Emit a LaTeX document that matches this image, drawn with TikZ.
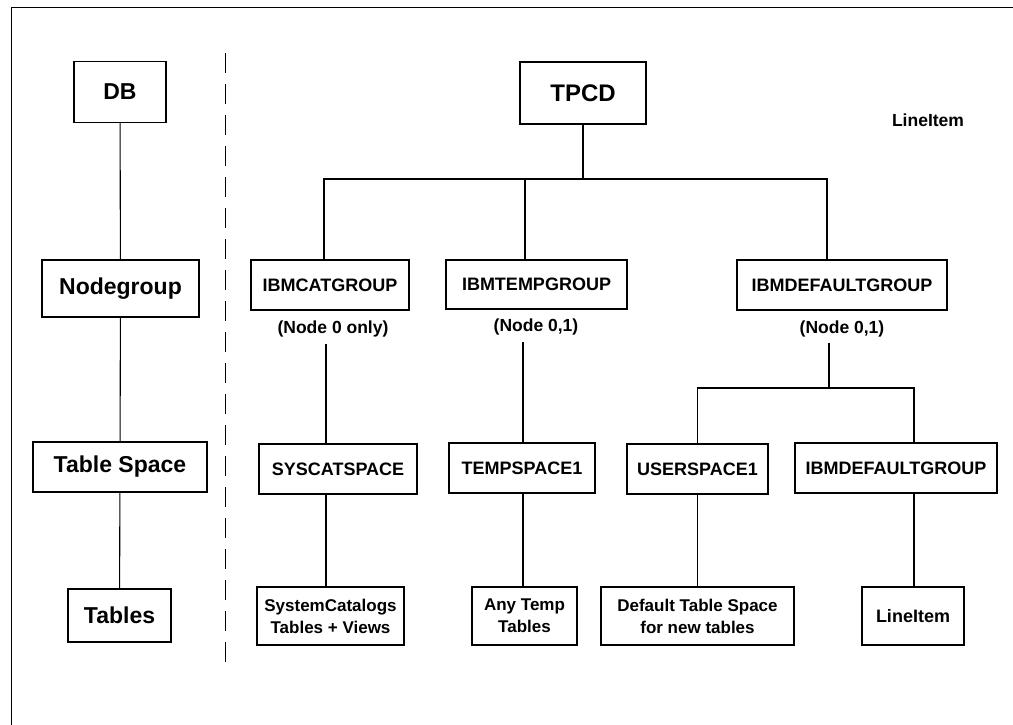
\documentclass[tikz,border=0pt]{standalone}
\usepackage{fontspec}
\setmainfont{Liberation Sans}
\begin{document}
\begin{tikzpicture}[x=1pt,y=-1pt,
  box/.style={draw,line width=1.2pt,inner sep=0pt,align=center,font=\fontsize{18}{22}\selectfont\bfseries},
  twobox/.style={box,font=\fontsize{17}{22}\selectfont\bfseries},
  bigbox/.style={box,font=\fontsize{23}{26}\selectfont\bfseries},
  lbl/.style={inner sep=0pt,font=\fontsize{17.5}{20}\selectfont\bfseries},
  conn/.style={line width=1.1pt},
  frame/.style={line width=1pt}]
\useasboundingbox (0,0) rectangle (1013,725);
% frame
\coordinate (fb) at (11,725);
\coordinate (ft) at (11,7.5);
\coordinate (fr) at (1013,7.5);
\draw[frame] (fb) -- (ft) -- (fr);
% divider
\coordinate (dtop) at (225,53);
\coordinate (dbot) at (225,665);
\draw[line width=1pt,dash pattern=on 20pt off 11pt] (dtop) -- (dbot);
% left column
\node[bigbox,minimum width=92pt,minimum height=61pt] (db) at (120,92) {DB};
\node[bigbox,minimum width=157pt,minimum height=57pt] (ng) at (120.5,288.5) {Nodegroup};
\node[bigbox,minimum width=174pt,minimum height=50pt] (ts) at (120,467) {Table Space};
\node[bigbox,minimum width=103pt,minimum height=53pt] (tb) at (119.5,615.5) {Tables};
\draw[conn] (db) -- (ng);
\draw[conn] (ng) -- (ts);
\draw[conn] (ts) -- (tb);
% right tree
\node[bigbox,minimum width=126pt,minimum height=62pt,font=\fontsize{24}{26}\selectfont\bfseries] (tpcd) at (583,93) {TPCD};
\node[lbl] (litxt) at (928,120) {LineItem};
\node[box,minimum width=158pt,minimum height=50pt] (cat) at (330,285) {IBMCATGROUP};
\node[box,minimum width=181pt,minimum height=49pt] (tmp) at (536.5,284.5) {IBMTEMPGROUP};
\node[box,minimum width=210pt,minimum height=50pt] (dflt) at (842,285) {IBMDEFAULTGROUP};
\node[lbl] (catlbl) at (333,329) {(Node 0 only)};
\node[lbl] (tmplbl) at (536,327) {(Node 0,1)};
\node[lbl] (dfltlbl) at (842,329) {(Node 0,1)};
\node[box,minimum width=158pt,minimum height=50pt] (sys) at (338,469) {SYSCATSPACE};
\node[box,minimum width=146pt,minimum height=50pt] (temp1) at (522,468) {TEMPSPACE1};
\node[box,minimum width=141pt,minimum height=50pt] (user) at (697.5,469) {USERSPACE1};
\node[box,minimum width=202pt,minimum height=50pt] (dflt2) at (896,468) {IBMDEFAULTGROUP};
\node[twobox,minimum width=147pt,minimum height=58pt] (catv) at (330.5,616) {SystemCatalogs\\Tables + Views};
\node[twobox,minimum width=105pt,minimum height=58pt] (anyt) at (524.5,616) {Any Temp\\Tables};
\node[twobox,minimum width=193pt,minimum height=58pt] (defts) at (697.5,616) {Default Table Space\\for new tables};
\node[box,minimum width=102pt,minimum height=58pt] (li) at (913,616) {LineItem};
% bus 1
\coordinate (busL) at (324,179);
\coordinate (busM) at (525,179);
\coordinate (busR) at (827,179);
\draw[conn] (tpcd.south) -- (tpcd.south |- busL);
\draw[conn] (busL |- cat.north) -- (busL) -- (busR) -- (busR |- dflt.north);
\draw[conn] (busM) -- (busM |- tmp.north);
% column links
\coordinate (cx) at (326,0);
\coordinate (tx) at (523,0);
\draw[conn] (cx |- catlbl.south) ++(0,7) -- (cx |- sys.north);
\draw[conn] (cx |- sys.south) -- (cx |- catv.north);
\draw[conn] (tx |- tmplbl.south) ++(0,7) -- (tx |- temp1.north);
\draw[conn] (tx |- temp1.south) -- (tx |- anyt.north);
% bus 2
\coordinate (b2L) at (697.5,388);
\coordinate (b2M) at (829,388);
\coordinate (b2R) at (914,388);
\draw[conn] (b2M |- dfltlbl.south) ++(0,6) -- (b2M);
\draw[conn] (user.north) -- (b2L) -- (b2R) -- (b2R |- dflt2.north);
\draw[conn] (user.south) -- (defts.north);
\draw[conn] (b2R |- dflt2.south) -- (b2R |- li.north);
\end{tikzpicture}
\end{document}
